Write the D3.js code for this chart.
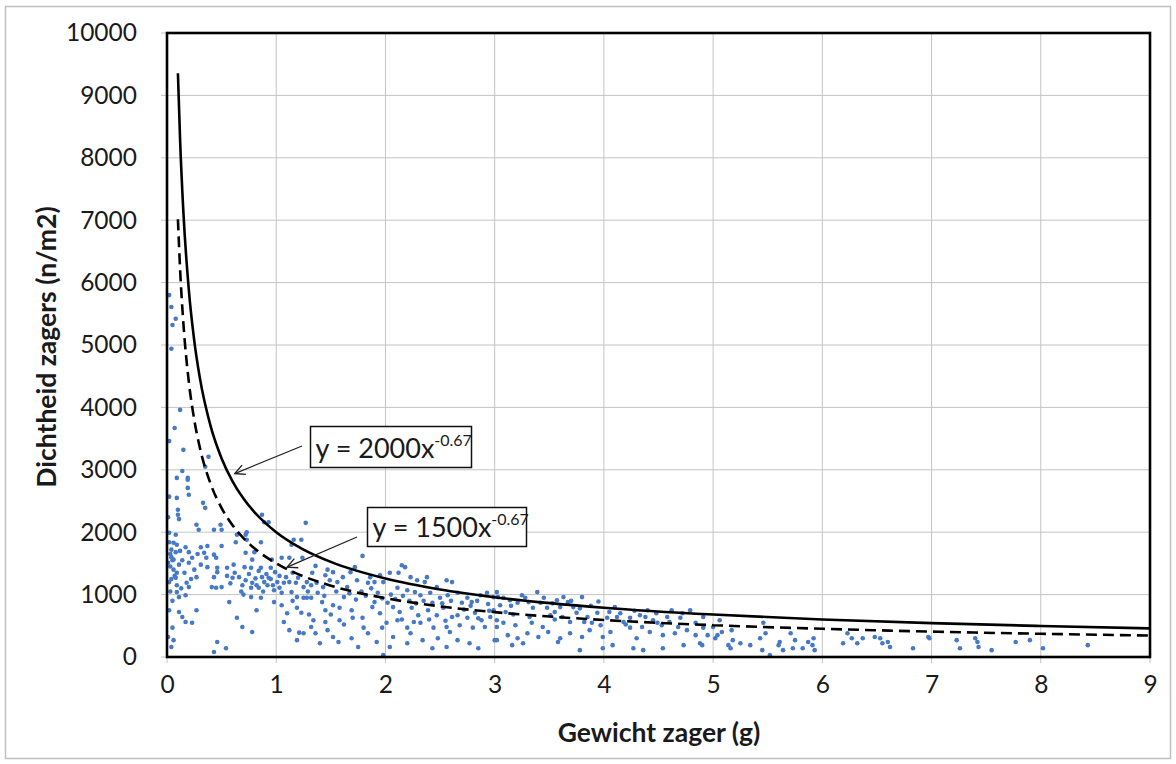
<!DOCTYPE html>
<html><head><meta charset="utf-8">
<script src="https://cdn.jsdelivr.net/npm/d3@7"></script>
<style>body{margin:0;background:#fff}svg{display:block}</style>
</head><body>
<svg id="c" width="1176" height="764"></svg>
<script>
const xTicks = [0,1,2,3,4,5,6,7,8,9];
const yTicks = [0,1000,2000,3000,4000,5000,6000,7000,8000,9000,10000];
const xTitle = "Gewicht zager (g)";
const yTitle = "Dichtheid zagers (n/m2)";
const curveX = [0.1,0.12,0.15,0.2,0.25,0.3,0.4,0.5,0.6,0.7,0.8,1,1.25,1.5,2,2.5,3,4,5,6,7,8,9];
const upperY = [9354,8280,7129,5879,5063,4481,3695,3182,2816,2540,2323,2000,1722,1524,1257,1082,958,790,680,602,543,497,459];
const lowerY = [7015,6210,5347,4409,3797,3361,2771,2387,2112,1905,1742,1500,1292,1143,943,812,719,593,510,452,407,372,344];
const upperLabel = {base:"y = 2000x", exp:"-0.67"};
const lowerLabel = {base:"y = 1500x", exp:"-0.67"};
const points = [
[0.02,5800],[0.04,5610],[0.08,5420],[0.05,5320],[0.04,4940],[0.12,3960],[0.07,3670],[0.02,3460],[0.15,3320],[0.38,3210],[0.35,3050],[0.14,2980],[0.19,2870],
[0.09,2870],[0.19,2840],[0.19,2710],[0.20,2600],[0.02,2570],[0.09,2550],[0.33,2470],[0.35,2390],[0.10,2360],[0.10,2280],[0.11,2210],[0.01,2240],[0.27,2120],[0.49,2120],[0.43,2040],[0.50,2040],[0.29,2040],[0.87,2280],[0.89,2160],[0.93,2160],[1.27,2150],[0.73,2000],[0.02,1990],[0.08,1960],[0.64,1960],[0.72,1960],[0.73,1880],[0.63,1840],[0.86,1840],[1.16,1880],[1.23,1880],[1.14,1800],[0.02,1840],[0.06,1830],[0.09,1800],[0.17,1760],[0.31,1760],[0.37,1780],[0.50,1780],[0.04,1720],[0.08,1680],[0.20,1680],[0.34,1670],[0.43,1640],[0.72,1670],[0.80,1680],[1.05,1590],[1.12,1590],[1.24,1590],[0.04,1600],[0.06,1560],[0.23,1590],[0.36,1590],[0.45,1590],[0.78,1560],[0.96,1560],[0.01,1510],[0.11,1480],[0.20,1510],[0.31,1480],[0.37,1440],[0.46,1430],[0.55,1430],[0.71,1440],[0.77,1430],[0.86,1430],[0.95,1430],[0.61,1480],[0.06,1400],[0.09,1350],[0.08,1270],[0.18,1190],[0.20,1120],[0.27,1280],[0.43,1280],[0.46,1360],[0.60,1270],[0.66,1280],[0.72,1230],[0.78,1190],[0.87,1280],[0.89,1200],[0.93,1270],[1.01,1200],[1.07,1190],[1.12,1200],[1.18,1190],[1.25,1120],[1.32,1150],[0.02,1200],[0.09,1150],[0.09,1040],[0.11,960],[0.17,990],[0.41,1120],[0.45,1110],[0.50,1120],[0.69,1150],[0.77,1110],[0.82,1150],[0.84,1110],[0.92,1150],[0.98,1070],[1.03,1110],[1.05,1030],[1.14,1040],[1.19,960],[1.25,950],[1.32,950],[0.77,960],[0.86,950],[0.98,880],[0.02,750],[0.11,720],[0.14,640],[0.17,560],[0.23,550],[0.27,750],[0.82,750],[1.05,830],[1.19,790],[1.23,710],[0.64,630],[0.69,480],[0.78,400],[1.07,560],[1.12,430],[1.21,390],[1.19,270],[0.05,470],[0.06,270],[0.04,160],[0.46,240],[0.43,80],[0.54,140],[0.01,320],[1.32,480],
[0.03,1650],[0.05,1550],[0.03,1450],[0.07,1300],[0.04,1250],[0.12,1700],[0.14,1550],[0.16,1350],[0.25,1400],[0.28,1650],[0.13,1100],[0.03,1050],[0.05,900],[0.22,1250],
[0.55,1300],[0.58,1180],[0.62,1350],[0.68,1050],[0.75,1330],[0.81,1260],[0.84,1380],[0.91,1330],[0.95,1250],[0.97,1150],[0.99,1360],[0.70,1000],[0.88,1050],[0.57,880],
[1.79,1620],[1.36,1460],[1.47,1400],[1.45,1310],[1.52,1360],[1.61,1280],[1.68,1360],[1.72,1440],[1.33,1350],[1.28,1200],[1.37,1190],[1.43,1120],[1.56,1200],[1.65,1120],[1.74,1230],[1.86,1280],[1.90,1200],[1.84,1190],[1.95,1310],[1.98,1200],[2.04,1350],[2.12,1350],[2.15,1470],[2.18,1440],[2.23,1280],[2.29,1230],[2.36,1200],[2.38,1280],[2.47,1120],[2.56,1230],[2.61,1200],[2.11,1110],[2.20,1070],[2.27,1040],[2.32,990],[2.41,1030],[2.50,950],[2.57,990],[2.66,1030],[2.75,950],[2.79,880],[2.87,990],[2.93,1030],[2.99,960],[1.28,950],[1.42,880],[1.52,830],[1.58,790],[1.69,750],[1.79,630],[1.88,800],[1.90,880],[2.02,870],[2.13,720],[2.24,790],[2.30,670],[2.39,750],[2.47,670],[2.53,790],[2.61,640],[2.66,670],[2.75,630],[2.82,710],[2.88,590],[2.96,640],[3.02,590],[1.34,590],[1.45,560],[1.58,590],[1.70,630],[2.01,550],[2.11,590],[2.20,470],[2.32,550],[2.44,470],[2.56,480],[2.68,510],[2.80,470],[2.91,480],[1.25,380],[1.36,380],[1.47,430],[1.52,320],[1.69,300],[1.84,380],[1.97,470],[2.07,320],[2.23,380],[2.34,270],[2.48,300],[2.59,400],[2.66,270],[2.77,220],[2.85,140],[3.00,270],[1.40,220],[1.57,240],[1.75,160],[1.92,240],[2.04,160],[2.20,220],[1.98,30],[2.43,140],[2.56,160],
[1.03,1300],[1.09,1280],[1.15,1350],[1.20,1270],[1.29,1050],[1.38,1030],[1.44,980],[1.49,1230],[1.55,1050],[1.62,960],[1.67,1020],[1.73,920],[1.78,1050],[1.82,980],[1.87,1100],[1.93,1030],[1.97,940],[1.10,700],[1.30,680],[1.50,680],[1.62,520],[1.80,470],[1.95,700],[1.15,900],[1.45,750],
[2.05,1000],[2.09,930],[2.16,980],[2.22,900],[2.28,860],[2.35,900],[2.43,870],[2.52,860],[2.60,900],[2.70,870],[2.78,820],[2.84,900],[2.94,850],[2.07,800],[2.15,600],[2.26,560],[2.40,600],[2.55,580],[2.72,760],[2.85,620],[2.95,740],
[3.02,1040],[3.03,960],[3.39,1040],[3.25,990],[3.14,910],[3.05,830],[2.99,750],[3.10,720],[3.21,870],[3.31,880],[3.42,870],[3.48,790],[3.57,910],[3.63,960],[3.67,880],[3.80,960],[3.72,800],[3.55,720],[3.51,670],[3.62,640],[3.75,710],[3.85,640],[3.94,710],[4.03,630],[4.10,800],[4.12,640],[4.18,560],[4.24,630],[4.33,670],[4.40,750],[4.45,590],[4.53,510],[4.62,750],[4.70,630],[4.79,750],[4.84,550],[4.91,470],[4.76,430],[4.65,380],[4.54,350],[4.42,400],[4.30,300],[4.24,470],[4.06,400],[3.99,320],[3.87,430],[3.80,320],[3.69,380],[3.60,300],[3.49,400],[3.40,320],[3.30,380],[3.21,300],[3.12,350],[3.02,270],[3.16,190],[3.26,220],[3.58,240],[3.78,110],[3.99,140],[4.08,190],[4.27,140],[4.36,110],[4.54,140],[4.73,190],[4.88,220],[3.02,480],[3.08,550],[3.19,510],[3.34,550],[3.44,480],[3.69,560],[3.89,550],[3.97,510],[4.35,480],[4.49,550],[4.68,480],[4.84,350],[4.91,640],
[3.08,950],[3.15,820],[3.28,950],[3.35,790],[3.45,950],[3.53,860],[3.60,800],[3.70,900],[3.78,780],[3.88,820],[3.95,890],[3.32,640],[3.55,600],[3.82,560],[3.17,680],
[4.05,720],[4.15,700],[4.28,740],[4.38,640],[4.48,700],[4.58,640],[4.72,700],[4.20,520],[4.60,560],
[5.06,590],[5.00,480],[4.95,350],[4.90,190],[5.04,350],[5.08,400],[5.02,300],[5.17,430],[5.18,270],[5.25,220],[5.14,190],[5.16,140],[5.34,190],[5.43,300],[5.46,550],[5.48,380],[5.45,110],[5.52,30],[5.61,240],[5.60,190],[5.64,110],[5.71,380],[5.75,270],[5.73,140],[5.82,140],[5.87,240],[5.92,300],[5.91,190],[5.93,110],[6.19,220],[6.23,380],[6.27,300],[6.32,220],[6.37,300],[6.48,320],[6.53,300],[6.55,220],[6.60,240],[6.62,160],[6.83,140],[6.97,320],
[6.98,300],[7.23,270],[7.26,140],[7.40,300],[7.42,240],[7.43,160],[7.55,110],[7.77,240],[7.90,270],[8.02,140],[8.43,190]
];

const FONT = "Lato, 'Open Sans', sans-serif";
const svg = d3.select("#c");
const L=167, T=33, R=1150, B=657;
const x = d3.scaleLinear().domain([0,9]).range([L,R]);
const y = d3.scaleLinear().domain([0,10000]).range([B,T]);

svg.append("rect").attr("x",5.5).attr("y",6.5).attr("width",1165).attr("height",752)
  .attr("fill","#fff").attr("stroke","#c0c0c0").attr("stroke-width",1.5);

// grid
const grid = svg.append("g").attr("stroke","#c4c4c4").attr("stroke-width",1);
grid.selectAll(".gx").data(xTicks).join("line")
  .attr("x1",d=>x(d)).attr("x2",d=>x(d)).attr("y1",T).attr("y2",B+6);
grid.selectAll(".gy").data(yTicks).join("line")
  .attr("y1",d=>y(d)).attr("y2",d=>y(d)).attr("x1",L-6).attr("x2",R);

// axes labels
const xa = d3.axisBottom(x).tickValues(xTicks).tickSize(0).tickPadding(19).tickFormat(d3.format("d"));
svg.append("g").attr("transform",`translate(0,${B})`).call(xa)
  .call(g=>g.select(".domain").remove())
  .selectAll("text").attr("font-family",FONT).attr("font-size",24.5).attr("fill","#1a1a1a");
const ya = d3.axisLeft(y).tickValues(yTicks).tickSize(0).tickPadding(30).tickFormat(d3.format("d"));
svg.append("g").attr("transform",`translate(${L},0)`).call(ya)
  .call(g=>g.select(".domain").remove())
  .selectAll("text").attr("font-family",FONT).attr("font-size",24.5).attr("fill","#1a1a1a");

// points
svg.append("g").selectAll("circle").data(points).join("circle")
  .attr("cx",d=>x(d[0])).attr("cy",d=>y(d[1])).attr("r",2.3).attr("fill","#4679c6");

// curves
const line = d3.line().x(d=>x(d[0])).y(d=>y(d[1])).curve(d3.curveMonotoneX);
svg.append("path").datum(curveX.map((v,i)=>[v,upperY[i]])).attr("d",line)
  .attr("fill","none").attr("stroke","#000").attr("stroke-width",2.6);
svg.append("path").datum(curveX.map((v,i)=>[v,lowerY[i]])).attr("d",line)
  .attr("fill","none").attr("stroke","#000").attr("stroke-width",2.6).attr("stroke-dasharray","11,6");

// frame
svg.append("rect").attr("x",L).attr("y",T).attr("width",R-L).attr("height",B-T)
  .attr("fill","none").attr("stroke","#000").attr("stroke-width",2.6);

// titles
svg.append("text").attr("x",659).attr("y",742).attr("text-anchor","middle")
  .attr("font-family",FONT).attr("font-weight","bold").attr("font-size",26.5).attr("fill","#1a1a1a").text(xTitle);
svg.append("text").attr("transform","translate(56,347) rotate(-90)").attr("text-anchor","middle")
  .attr("font-family",FONT).attr("font-weight","bold").attr("font-size",26.5).attr("fill","#1a1a1a").text(yTitle);

// annotations
const defs = svg.append("defs");
defs.append("marker").attr("id","arr").attr("viewBox","0 0 12 12").attr("refX",11).attr("refY",6)
  .attr("markerWidth",12).attr("markerHeight",12).attr("markerUnits","userSpaceOnUse").attr("orient","auto")
  .append("path").attr("d","M1,1 L11,6 L1,11").attr("fill","none").attr("stroke","#222").attr("stroke-width",1.4);

function annot(lbl, bx, by, bw, bh, from, tipData){
  svg.append("line").attr("x1",from[0]).attr("y1",from[1])
    .attr("x2",x(tipData[0])).attr("y2",y(tipData[1]))
    .attr("stroke","#222").attr("stroke-width",1.3).attr("marker-end","url(#arr)");
  svg.append("rect").attr("x",bx).attr("y",by).attr("width",bw).attr("height",bh)
    .attr("fill","#fff").attr("stroke","#111").attr("stroke-width",1.5);
  const t = svg.append("text").attr("x",bx+5).attr("y",by+bh-10)
    .attr("font-family",FONT).attr("font-size",27).attr("fill","#1a1a1a");
  t.append("tspan").text(lbl.base);
  t.append("tspan").attr("dy",-12).attr("font-size",16).text(lbl.exp);
}
annot(upperLabel, 310.5, 426.5, 161, 41, [302,446], [0.62,2940]);
annot(lowerLabel, 367.5, 507.5, 159, 39, [357,537], [1.1,1440]);
</script>
</body></html>
